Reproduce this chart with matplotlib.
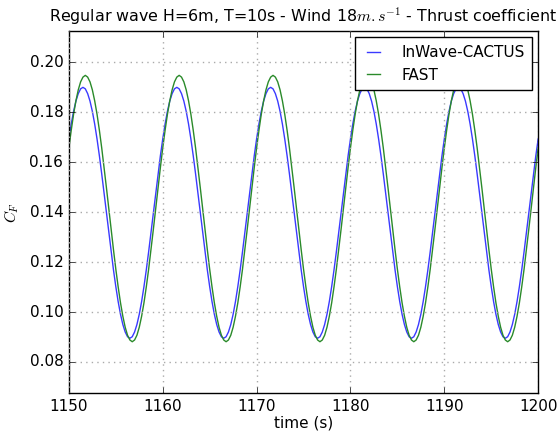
import matplotlib
matplotlib.use("Agg")
import matplotlib.pyplot as plt
import numpy as np

t_start, t_end, dt = 1150, 1200, 0.25

cactus = [
    0.1693, 0.1753, 0.1804, 0.1845, 0.1875, 0.1894, 0.1900, 0.1894, 0.1875, 0.1845,
    0.1804, 0.1753, 0.1693, 0.1626, 0.1553, 0.1476, 0.1398, 0.1319, 0.1242, 0.1169,
    0.1102, 0.1042, 0.0991, 0.0950, 0.0920, 0.0901, 0.0895, 0.0901, 0.0920, 0.0950,
    0.0991, 0.1042, 0.1102, 0.1169, 0.1242, 0.1319, 0.1398, 0.1476, 0.1553, 0.1626,
    0.1693, 0.1753, 0.1804, 0.1845, 0.1875, 0.1894, 0.1900, 0.1894, 0.1875, 0.1845,
    0.1804, 0.1753, 0.1693, 0.1626, 0.1553, 0.1476, 0.1398, 0.1319, 0.1242, 0.1169,
    0.1102, 0.1042, 0.0991, 0.0950, 0.0920, 0.0901, 0.0895, 0.0901, 0.0920, 0.0950,
    0.0991, 0.1042, 0.1102, 0.1169, 0.1242, 0.1319, 0.1398, 0.1476, 0.1553, 0.1626,
    0.1693, 0.1753, 0.1804, 0.1845, 0.1875, 0.1894, 0.1900, 0.1894, 0.1875, 0.1845,
    0.1804, 0.1753, 0.1693, 0.1626, 0.1553, 0.1476, 0.1398, 0.1319, 0.1242, 0.1169,
    0.1102, 0.1042, 0.0991, 0.0950, 0.0920, 0.0901, 0.0895, 0.0901, 0.0920, 0.0950,
    0.0991, 0.1042, 0.1102, 0.1169, 0.1242, 0.1319, 0.1398, 0.1476, 0.1553, 0.1626,
    0.1693, 0.1753, 0.1804, 0.1845, 0.1875, 0.1894, 0.1900, 0.1894, 0.1875, 0.1845,
    0.1804, 0.1753, 0.1693, 0.1626, 0.1553, 0.1476, 0.1398, 0.1319, 0.1242, 0.1169,
    0.1102, 0.1042, 0.0991, 0.0950, 0.0920, 0.0901, 0.0895, 0.0901, 0.0920, 0.0950,
    0.0991, 0.1042, 0.1102, 0.1169, 0.1242, 0.1319, 0.1398, 0.1476, 0.1553, 0.1626,
    0.1693, 0.1753, 0.1804, 0.1845, 0.1875, 0.1894, 0.1900, 0.1894, 0.1875, 0.1845,
    0.1804, 0.1753, 0.1693, 0.1626, 0.1553, 0.1476, 0.1398, 0.1319, 0.1242, 0.1169,
    0.1102, 0.1042, 0.0991, 0.0950, 0.0920, 0.0901, 0.0895, 0.0901, 0.0920, 0.0950,
    0.0991, 0.1042, 0.1102, 0.1169, 0.1242, 0.1319, 0.1398, 0.1476, 0.1553, 0.1626,
    0.1693,
]

fast = [
    0.1657, 0.1728, 0.1792, 0.1846, 0.1890, 0.1922, 0.1941, 0.1948, 0.1941, 0.1922,
    0.1890, 0.1846, 0.1792, 0.1728, 0.1657, 0.1579, 0.1498, 0.1415, 0.1331, 0.1250,
    0.1172, 0.1101, 0.1037, 0.0983, 0.0939, 0.0907, 0.0888, 0.0881, 0.0888, 0.0907,
    0.0939, 0.0983, 0.1037, 0.1101, 0.1172, 0.1250, 0.1331, 0.1415, 0.1498, 0.1579,
    0.1657, 0.1728, 0.1792, 0.1846, 0.1890, 0.1922, 0.1941, 0.1948, 0.1941, 0.1922,
    0.1890, 0.1846, 0.1792, 0.1728, 0.1657, 0.1579, 0.1498, 0.1415, 0.1331, 0.1250,
    0.1172, 0.1101, 0.1037, 0.0983, 0.0939, 0.0907, 0.0888, 0.0881, 0.0888, 0.0907,
    0.0939, 0.0983, 0.1037, 0.1101, 0.1172, 0.1250, 0.1331, 0.1415, 0.1498, 0.1579,
    0.1657, 0.1728, 0.1792, 0.1846, 0.1890, 0.1922, 0.1941, 0.1948, 0.1941, 0.1922,
    0.1890, 0.1846, 0.1792, 0.1728, 0.1657, 0.1579, 0.1498, 0.1415, 0.1331, 0.1250,
    0.1172, 0.1101, 0.1037, 0.0983, 0.0939, 0.0907, 0.0888, 0.0881, 0.0888, 0.0907,
    0.0939, 0.0983, 0.1037, 0.1101, 0.1172, 0.1250, 0.1331, 0.1415, 0.1498, 0.1579,
    0.1657, 0.1728, 0.1792, 0.1846, 0.1890, 0.1922, 0.1941, 0.1948, 0.1941, 0.1922,
    0.1890, 0.1846, 0.1792, 0.1728, 0.1657, 0.1579, 0.1498, 0.1415, 0.1331, 0.1250,
    0.1172, 0.1101, 0.1037, 0.0983, 0.0939, 0.0907, 0.0888, 0.0881, 0.0888, 0.0907,
    0.0939, 0.0983, 0.1037, 0.1101, 0.1172, 0.1250, 0.1331, 0.1415, 0.1498, 0.1579,
    0.1657, 0.1728, 0.1792, 0.1846, 0.1890, 0.1922, 0.1941, 0.1948, 0.1941, 0.1922,
    0.1890, 0.1846, 0.1792, 0.1728, 0.1657, 0.1579, 0.1498, 0.1415, 0.1331, 0.1250,
    0.1172, 0.1101, 0.1037, 0.0983, 0.0939, 0.0907, 0.0888, 0.0881, 0.0888, 0.0907,
    0.0939, 0.0983, 0.1037, 0.1101, 0.1172, 0.1250, 0.1331, 0.1415, 0.1498, 0.1579,
    0.1657,
]

time = np.arange(t_start, t_end + dt / 2, dt)

plt.style.use('classic')
plt.rcParams['mathtext.fontset'] = 'cm'

fig = plt.figure(figsize=(5.6, 4.33), dpi=100, facecolor='white')
ax = fig.add_axes([0.123, 0.092, 0.838, 0.836])

ax.plot(time, cactus, color='#3a3aff', linewidth=1.0, label='InWave-CACTUS')
ax.plot(time, fast, color='#2a8a2a', linewidth=1.0, label='FAST')

ax.set_xlim(1150, 1200)
ax.set_ylim(0.0675, 0.2125)
ax.set_yticks([0.08, 0.10, 0.12, 0.14, 0.16, 0.18, 0.20])
ax.set_xticks([1150, 1160, 1170, 1180, 1190, 1200])
ax.yaxis.set_major_formatter(matplotlib.ticker.FormatStrFormatter('%.2f'))
ax.grid(True, linestyle=':', color='#aaaaaa', linewidth=1.0)
ax.tick_params(labelsize=11)

ax.set_xlabel('time (s)', fontsize=11, labelpad=1)
ax.set_ylabel('$C_F$', fontsize=11, labelpad=6)
ax.set_title(r'Regular wave H=6m, T=10s - Wind 18$m.s^{-1}$ - Thrust coefficient',
             fontsize=11.4, y=1.008)

leg = ax.legend(loc='upper right', fontsize=11, handlelength=1.4, handletextpad=1.1,
                borderpad=0.5, labelspacing=0.5, borderaxespad=0.4)
leg.get_frame().set_linewidth(1.0)

fig.savefig('out.png', dpi=100, facecolor='white')
